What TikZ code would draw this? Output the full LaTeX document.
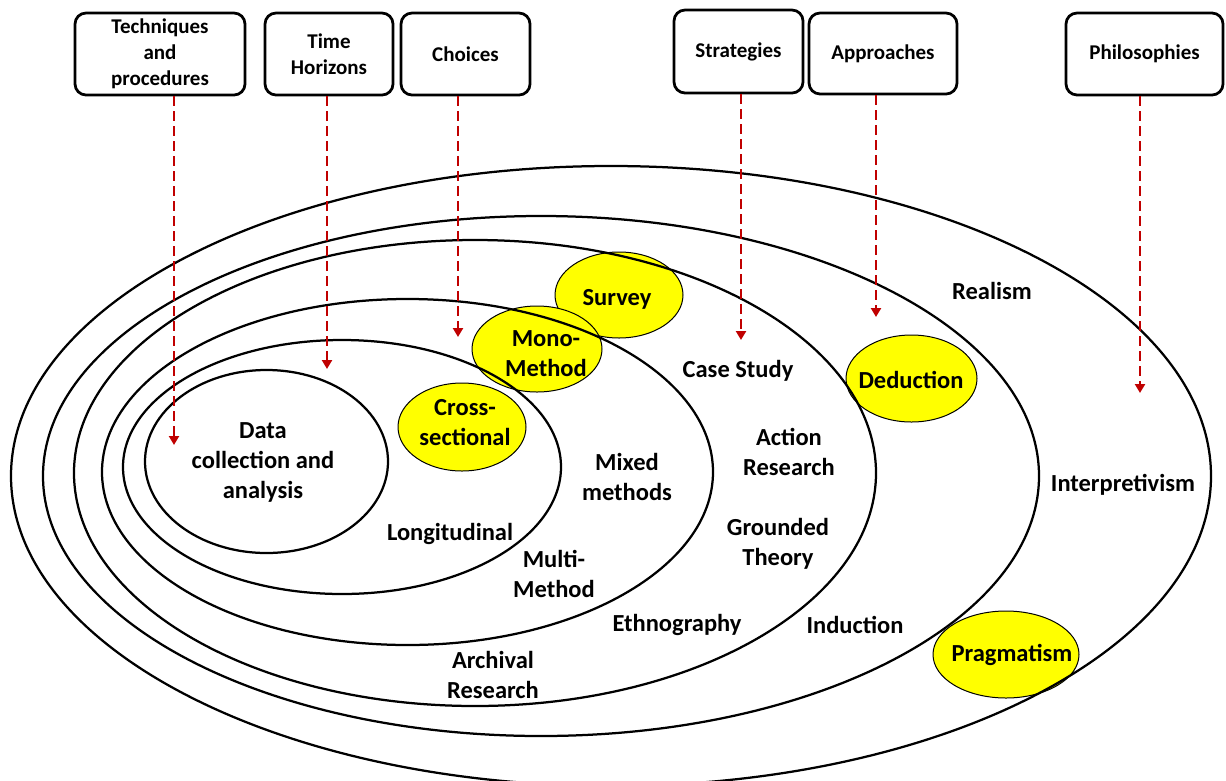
\documentclass[tikz,border=0pt]{standalone}
\usepackage{fontspec}
\setmainfont{Carlito}
\usetikzlibrary{arrows.meta}
\definecolor{arrowred}{HTML}{C00000}
\definecolor{hiyellow}{HTML}{FFFF00}
\begin{document}
\begin{tikzpicture}[x=1pt,y=-1pt,
  ring/.style={draw=black,line width=2.25pt},
  hilite/.style={fill=hiyellow,draw=black,line width=1pt},
  lbl/.style={align=center,inner sep=0pt,font=\fontsize{24.5}{30}\selectfont\bfseries},
  topbox/.style={draw=black,line width=2.75pt,rounded corners=11pt,align=center,inner sep=0pt,
    font=\fontsize{21}{26}\selectfont\bfseries},
  link/.style={draw=arrowred,line width=2.5pt,dash pattern=on 10pt off 5pt,
    -{Triangle[length=9pt,width=10pt]}}]

% canvas
\fill[white] (0,0) rectangle (1226,780);
\useasboundingbox (0,0) rectangle (1226,780);

% highlighted terms (under the rings)
\path[hilite] (619,295) ellipse [x radius=64pt, y radius=43pt];
\path[hilite] (537,349) ellipse [x radius=65pt, y radius=43pt];
\path[hilite] (462,427) ellipse [x radius=64pt, y radius=44pt];
\path[hilite] (911.5,378.5) ellipse [x radius=65.5pt, y radius=43.5pt];
\path[hilite] (1006,654.5) ellipse [x radius=73pt, y radius=43.5pt];

% the onion rings, inside out
\path[ring] (266.5,461.5) ellipse [x radius=121.5pt, y radius=91.5pt];
\path[ring] (342,467) ellipse [x radius=219pt, y radius=127pt];
\path[ring] (407.5,472) ellipse [x radius=305.5pt, y radius=173pt];
\path[ring] (475,473) ellipse [x radius=401pt, y radius=233pt];
\path[ring] (541,476) ellipse [x radius=498pt, y radius=260pt];
\path[ring] (611,476) ellipse [x radius=600pt, y radius=310pt];

% layer headings
\node[topbox,minimum width=170pt,minimum height=82pt] (tech) at (160,54) {Techniques\\and\\procedures};
\node[topbox,minimum width=128pt,minimum height=82pt] (time) at (329,54) {Time\\Horizons};
\node[topbox,minimum width=129pt,minimum height=82pt] (choices) at (465.5,54) {Choices};
\node[topbox,minimum width=129pt,minimum height=83pt] (strat) at (738.5,51.5) {Strategies};
\node[topbox,minimum width=148pt,minimum height=81pt] (appr) at (883,53.5) {Approaches};
\node[topbox,minimum width=157pt,minimum height=82pt] (phil) at (1144.5,54) {Philosophies};

% arrow ends inside each layer
\coordinate (techend) at (174,445);
\coordinate (timeend) at (327,369);
\coordinate (choicesend) at (458,337);
\coordinate (stratend) at (741,340);
\coordinate (apprend) at (876,317);
\coordinate (philend) at (1140,393);

\draw[link] (tech.south -| techend) -- (techend);
\draw[link] (time.south -| timeend) -- (timeend);
\draw[link] (choices.south -| choicesend) -- (choicesend);
\draw[link] (strat.south -| stratend) -- (stratend);
\draw[link] (appr.south -| apprend) -- (apprend);
\draw[link] (phil.south -| philend) -- (philend);

% labels
\node[lbl] (data) at (263,462) {Data\\collection and\\analysis};
\node[lbl] (cross) at (465,423) {Cross-\\sectional};
\node[lbl] (mono) at (546,354) {Mono-\\Method};
\node[lbl] (survey) at (617,299) {Survey};
\node[lbl] (longit) at (450,534) {Longitudinal};
\node[lbl] (mixed) at (627,477) {Mixed\\methods};
\node[lbl] (multi) at (554,574) {Multi-\\Method};
\node[lbl] (archival) at (493,675) {Archival\\Research};
\node[lbl] (casestudy) at (738,371) {Case Study};
\node[lbl] (action) at (789,452) {Action\\Research};
\node[lbl] (grounded) at (778,544) {Grounded\\Theory};
\node[lbl] (ethno) at (677,625) {Ethnography};
\node[lbl] (deduction) at (911,380) {Deduction};
\node[lbl] (induction) at (855,625) {Induction};
\node[lbl] (realism) at (992,291) {Realism};
\node[lbl] (interp) at (1123,485) {Interpretivism};
\node[lbl] (pragma) at (1012,655) {Pragmatism};
\end{tikzpicture}
\end{document}
